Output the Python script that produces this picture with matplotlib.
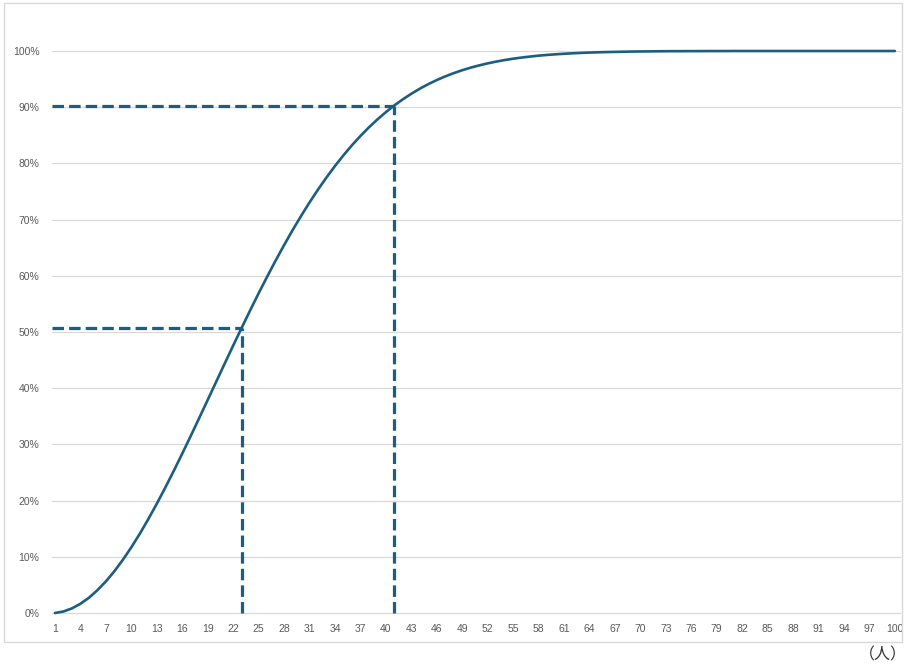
import matplotlib
matplotlib.use("Agg")
import matplotlib.pyplot as plt
from matplotlib.patches import Rectangle

plt.rcParams['font.family'] = ['Liberation Sans', 'Noto Sans CJK JP', 'DejaVu Sans']

people = list(range(1, 101))
prob = [
    0.0000, 0.0027, 0.0082, 0.0164, 0.0271, 0.0405, 0.0562, 0.0743, 0.0946, 0.1169,
    0.1411, 0.1670, 0.1944, 0.2231, 0.2529, 0.2836, 0.3150, 0.3469, 0.3791, 0.4114,
    0.4437, 0.4757, 0.5073, 0.5383, 0.5687, 0.5982, 0.6269, 0.6545, 0.6810, 0.7063,
    0.7305, 0.7533, 0.7750, 0.7953, 0.8144, 0.8322, 0.8487, 0.8641, 0.8782, 0.8912,
    0.9032, 0.9140, 0.9239, 0.9329, 0.9410, 0.9483, 0.9548, 0.9606, 0.9658, 0.9704,
    0.9744, 0.9780, 0.9811, 0.9839, 0.9863, 0.9883, 0.9901, 0.9917, 0.9930, 0.9941,
    0.9951, 0.9959, 0.9966, 0.9972, 0.9977, 0.9981, 0.9984, 0.9987, 0.9990, 0.9992,
    0.9993, 0.9995, 0.9996, 0.9997, 0.9997, 0.9998, 0.9998, 0.9999, 0.9999, 0.9999,
    1.0000, 1.0000, 1.0000, 1.0000, 1.0000, 1.0000, 1.0000, 1.0000, 1.0000, 1.0000,
    1.0000, 1.0000, 1.0000, 1.0000, 1.0000, 1.0000, 1.0000, 1.0000, 1.0000, 1.0000,
]
marker_people = [23, 41]
marker_prob = [0.507, 0.903]
x_ticks = list(range(1, 101, 3))
y_ticks = [0, 0.1, 0.2, 0.3, 0.4, 0.5, 0.6, 0.7, 0.8, 0.9, 1.0]
y_labels = ["0%", "10%", "20%", "30%", "40%", "50%", "60%", "70%", "80%", "90%", "100%"]
unit_label = "（人）"

W, H = 908, 664
fig = plt.figure(figsize=(W / 100, H / 100), dpi=100)
fig.patches.append(Rectangle((4 / W, 1 - 642 / H), (902 - 4) / W, (642 - 3) / H,
                             transform=fig.transFigure, fill=False,
                             edgecolor='#d9d9d9', lw=1.0))

left, right, top, bottom = 52, 900, 51, 613
ax = fig.add_axes([left / W, 1 - bottom / H, (right - left) / W, (bottom - top) / H])
ax.set_xlim(0.65, 100.6)
ax.set_ylim(0, 1)
for s in ax.spines.values():
    s.set_visible(False)

for yv in y_ticks:
    ax.axhline(yv, color='#d9d9d9', lw=0.9, zorder=1, clip_on=False)

color = '#1b5e80'
ax.plot(people, prob, color=color, lw=1.9, zorder=3, clip_on=False,
        solid_capstyle='round')

for xm, ym in zip(marker_people, marker_prob):
    ax.plot([ax.get_xlim()[0], xm], [ym, ym], color=color, lw=2.3,
            dashes=(3.6, 1.6), zorder=2, clip_on=False)
    ax.plot([xm, xm], [0, ym], color=color, lw=2.3,
            dashes=(3.6, 1.6), zorder=2, clip_on=False)

ax.set_xticks(x_ticks)
ax.set_xticklabels([str(v) for v in x_ticks])
ax.set_yticks(y_ticks)
ax.set_yticklabels(y_labels)
ax.tick_params(axis='both', length=0, labelsize=7.5, labelcolor='#595959')
ax.tick_params(axis='x', pad=8)
ax.tick_params(axis='y', pad=9)

fig.text(883 / W, 1 - 655 / H, unit_label, ha='center', va='center',
         fontsize=11.5, color='#333333', family=['Noto Sans CJK JP', 'DejaVu Sans'])

fig.savefig("out.png", dpi=100)
